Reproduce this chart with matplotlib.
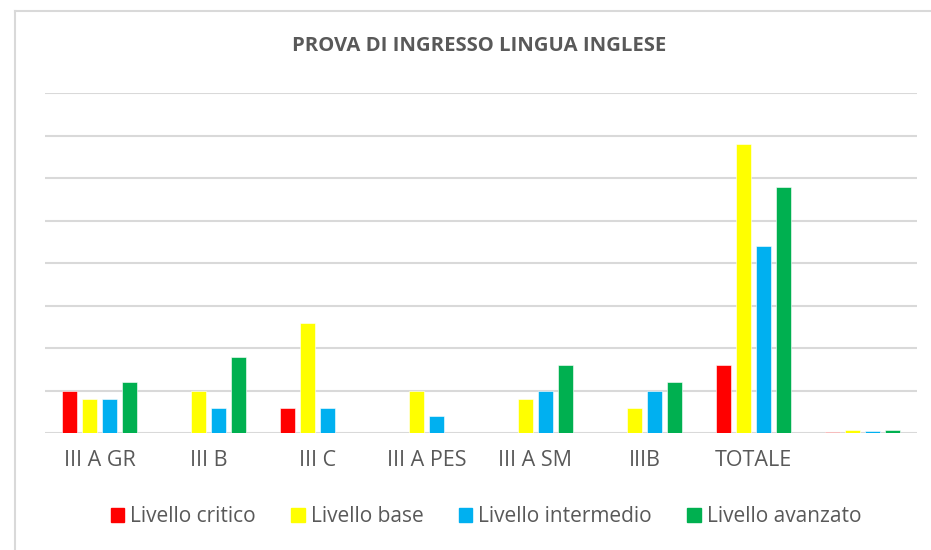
import numpy as np
import matplotlib.pyplot as plt
from matplotlib.lines import Line2D

classes = ['III A GR', 'III B', 'III C', 'III A PES', 'III A SM', 'IIIB', 'TOTALE', '']
critico = [5, 0, 3, 0, 0, 0, 8, 0.09]
base = [4, 5, 13, 5, 4, 3, 34, 0.37]
intermedio = [4, 3, 3, 2, 5, 5, 22, 0.24]
avanzato = [6, 9, 0, 0, 8, 6, 29, 0.31]

series = [
    ('Livello critico', critico, '#FF0000'),
    ('Livello base', base, '#FFFF00'),
    ('Livello intermedio', intermedio, '#00B0F0'),
    ('Livello avanzato', avanzato, '#00B050'),
]

plt.rcParams['font.family'] = ['Open Sans', 'DejaVu Sans']
text_col = '#595959'
grid_col = '#d9d9d9'

fig = plt.figure(figsize=(9.31, 5.5), dpi=100)
ax = fig.add_axes([45 / 931, 117 / 550, 872 / 931, 340 / 550])

x = np.arange(len(classes))
step = 0.183
width = 0.145
for i, (name, vals, col) in enumerate(series):
    ax.bar(x + (i - 1.5) * step, vals, width, color=col, label=name,
           edgecolor='white', linewidth=0.4, zorder=3)

ax.set_xlim(-0.5, len(classes) - 0.5)
ax.set_ylim(0, 40)
ax.set_yticks(np.arange(0, 41, 5))
ax.yaxis.grid(True, color=grid_col, linewidth=1.5, zorder=0)
ax.tick_params(axis='y', length=0, labelleft=False)
ax.set_xticks(x)
ax.set_xticklabels(classes, fontsize=15.5, color=text_col)
ax.tick_params(axis='x', length=0, pad=12)
for s in ax.spines.values():
    s.set_visible(False)

fig.text(0.515, 1 - 46 / 550, 'PROVA DI INGRESSO LINGUA INGLESE', ha='center', va='center',
         fontsize=14.6, fontweight='bold', color=text_col)

handles = [plt.Rectangle((0, 0), 1, 1, color=c) for _, _, c in series]
fig.legend(handles, [n for n, _, _ in series], loc='center', bbox_to_anchor=(486 / 931, 1 - 517 / 550),
           ncol=4, frameon=False, fontsize=15, labelcolor=text_col, handlelength=0.65,
           handleheight=0.65, handletextpad=0.3, columnspacing=1.68)

# outer chart frame
fig.add_artist(Line2D([15 / 931, 15 / 931], [0, 1 - 11 / 550], color=grid_col, linewidth=1.5))
fig.add_artist(Line2D([15 / 931, 1], [1 - 11 / 550, 1 - 11 / 550], color=grid_col, linewidth=1.5))

fig.savefig('out.png', dpi=100, facecolor='white')
